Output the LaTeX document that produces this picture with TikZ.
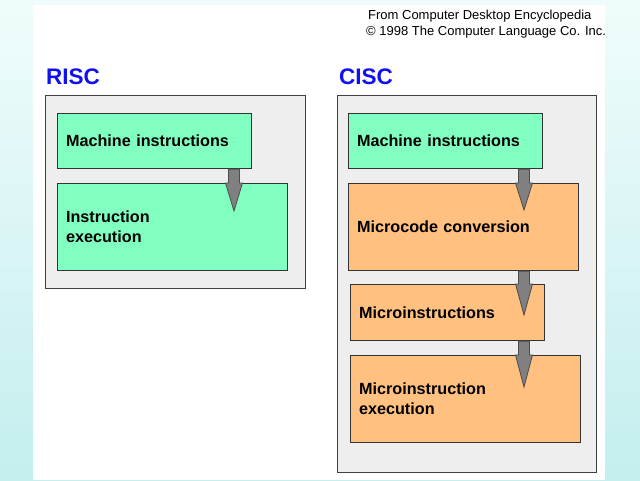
\documentclass[tikz,border=0pt]{standalone}
\usepackage{fontspec}
\setmainfont{Liberation Sans}
\usetikzlibrary{calc}
\definecolor{bgtop}{HTML}{F0FCFC}
\definecolor{bgbot}{HTML}{C4EEEE}
\definecolor{greenfill}{HTML}{80FFC0}
\definecolor{orangefill}{HTML}{FFC080}
\definecolor{panelfill}{HTML}{EEEEEE}
\definecolor{titleblue}{HTML}{1010F0}
\definecolor{arrowgray}{HTML}{808080}
\tikzset{
  panel/.style={draw=black!75, line width=1.1pt, fill=panelfill, anchor=north west, inner sep=0pt},
  boxnode/.style={draw=black!80, line width=1.1pt, anchor=north west, inner xsep=8.5pt, inner ysep=0pt,
     align=left, font=\fontsize{16.2}{20}\selectfont\bfseries},
  greenbox/.style={boxnode, fill=greenfill},
  orangebox/.style={boxnode, fill=orangefill},
  heading/.style={anchor=base west, inner sep=0pt, text=titleblue, font=\fontsize{22.5}{26}\selectfont\bfseries},
  credit/.style={anchor=base west, inner sep=0pt, font=\fontsize{13}{15}\selectfont},
  blockarrow/.style={fill=arrowgray, draw=black!70, line width=0.8pt, line join=miter}
}
\newcommand{\blockarr}[4]{% #1 axis coordinate, #2 upper node, #3 lower node, #4 tip depth below lower top
  \draw[blockarrow]
    ($(#1 |- #2.south)+(-5.5,0)$) -- ($(#1 |- #3.north)+(-5.5,0)$) -- ($(#1 |- #3.north)+(-8.5,0)$)
    -- ($(#1 |- #3.north)+(0,#4)$)
    -- ($(#1 |- #3.north)+(8.5,0)$) -- ($(#1 |- #3.north)+(5.5,0)$) -- ($(#1 |- #2.south)+(5.5,0)$) -- cycle;
}
\begin{document}
\begin{tikzpicture}[x=1pt,y=-1pt]
  \useasboundingbox (0,0) rectangle (640,480);
  \shade[top color=bgtop, bottom color=bgbot] (0,0) rectangle (640,480);
  \fill[white] (33,5) rectangle (605,480);

  \node[credit] (cr1) at (368,19) {From Computer Desktop Encyclopedia};
  \node[credit] (cr2) at (366,35) {© 1998 The Computer Language Co. Inc.};

  % RISC
  \node[heading] (risc) at (46,84) {RISC};
  \node[panel, minimum width=260pt, minimum height=193pt] (rp) at (45,95) {};
  \node[greenbox, minimum width=194pt, text width=177pt, minimum height=55pt] (rmi) at (57,113) {Machine instructions};
  \node[greenbox, minimum width=230pt, text width=213pt, minimum height=87pt] (rie) at (57,183) {Instruction\\execution};
  \coordinate (rax) at (234,0);
  \blockarr{rax}{rmi}{rie}{28}

  % CISC
  \node[heading] (cisc) at (339,84) {CISC};
  \node[panel, minimum width=259pt, minimum height=377pt] (cp) at (337,95) {};
  \node[greenbox, minimum width=194pt, text width=177pt, minimum height=55pt] (cmi) at (348,113) {Machine instructions};
  \node[orangebox, minimum width=230pt, text width=213pt, minimum height=87pt] (cmc) at (348,183) {Microcode conversion};
  \node[orangebox, minimum width=194pt, text width=177pt, minimum height=56pt] (cmu) at (350,284) {Microinstructions};
  \node[orangebox, minimum width=230pt, text width=213pt, minimum height=87pt] (cme) at (350,355) {Microinstruction\\execution};
  \coordinate (cax) at (524,0);
  \blockarr{cax}{cmi}{cmc}{27}
  \blockarr{cax}{cmc}{cmu}{31}
  \blockarr{cax}{cmu}{cme}{32}
\end{tikzpicture}
\end{document}
